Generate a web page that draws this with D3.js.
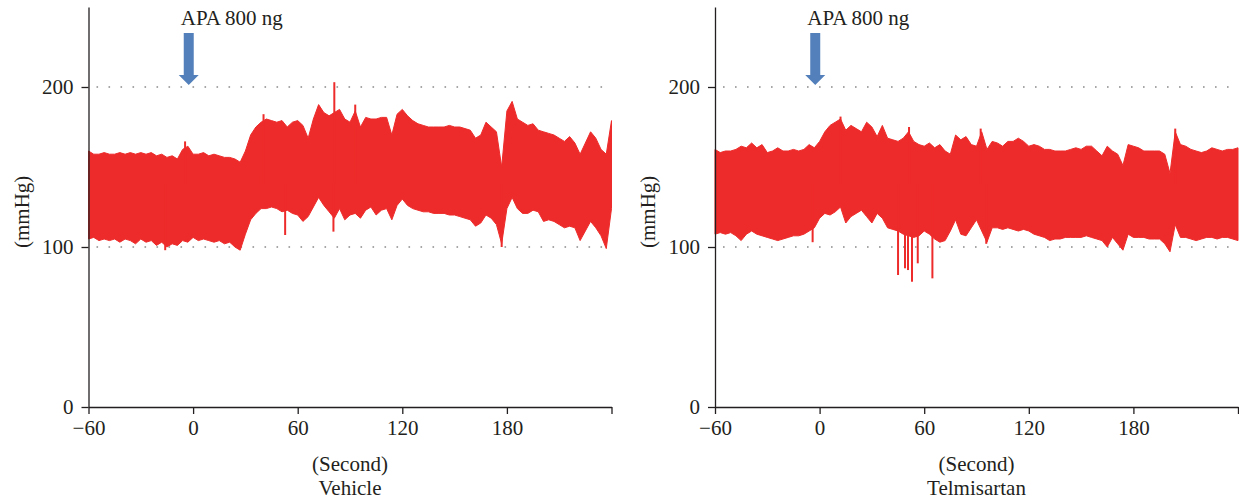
<!DOCTYPE html>
<html>
<head>
<meta charset="utf-8">
<script src="https://cdn.jsdelivr.net/npm/d3@7"></script>
<style>
  body { margin: 0; background: #fff; }
  svg { display: block; }
  text { font-family: "Liberation Serif", "DejaVu Serif", serif; fill: #231f20; }
</style>
</head>
<body>
<div id="chart"></div>
<script>
// Blood pressure traces (mmHg) after APA 800 ng, sampled every 3 s from -60 s to 240 s

const timeGrid = d3.range(-60, 241, 3);
const xTicks = [-60, 0, 60, 120, 180, 240];
const xTickLabels = ['\u221260', '0', '60', '120', '180', ''];
const yTicks = [0, 100, 200];
const gridValues = [100, 200];
const panelTitles = ['Vehicle', 'Telmisartan'];
const arrowTime = -2.5;

const vehicleUpper = [
  160, 158, 158, 159, 158, 158, 159, 158, 159, 158,
  159, 158, 159, 157, 158, 156, 157, 155, 161, 163,
  158, 158, 159, 157, 158, 157, 156, 156, 155, 153,
  160, 170, 175, 178, 180, 179, 178, 179, 175, 178,
  179, 176, 168, 180, 189, 184, 182, 184, 186, 180,
  178, 185, 175, 181, 180, 180, 181, 181, 170, 183,
  186, 182, 179, 177, 176, 175, 175, 175, 175, 176,
  175, 175, 174, 173, 168, 170, 178, 175, 172, 150,
  185, 191, 180, 178, 176, 177, 173, 172, 171, 170,
  168, 166, 169, 165, 158, 165, 172, 168, 161, 158,
  179
];
const vehicleLower = [
  105, 106, 104, 105, 104, 105, 103, 105, 104, 102,
  105, 103, 104, 101, 103, 100, 102, 101, 104, 103,
  106, 104, 105, 104, 103, 104, 102, 103, 100, 98,
  108, 117, 121, 124, 124, 125, 124, 122, 123, 121,
  120, 116, 119, 125, 131, 126, 122, 118, 124, 117,
  120, 121, 118, 123, 125, 120, 123, 124, 117, 126,
  130, 126, 124, 123, 122, 122, 121, 121, 121, 120,
  120, 119, 118, 117, 113, 115, 120, 118, 114, 102,
  124, 131, 124, 121, 121, 123, 122, 116, 117, 116,
  114, 112, 113, 112, 104, 110, 116, 112, 107, 99,
  124
];
const vehicleSpikeTime = [-4.6, 40.4, 81, 93, -16, 52.8, 80.5, 177];
const vehicleSpikeValue = [166, 183, 203, 189, 98, 107.5, 109.6, 100];

const telmiUpper = [
  161, 159, 160, 160, 161, 163, 162, 165, 162, 164,
  159, 160, 162, 160, 160, 161, 160, 161, 164, 162,
  166, 172, 176, 178, 180, 173, 176, 174, 172, 178,
  175, 169, 176, 168, 167, 166, 168, 172, 166, 164,
  163, 165, 162, 164, 160, 158, 170, 167, 169, 164,
  163, 172, 161, 166, 165, 163, 166, 166, 168, 166,
  163, 164, 163, 161, 161, 160, 160, 160, 161, 162,
  161, 163, 163, 160, 157, 163, 160, 158, 151, 164,
  163, 162, 160, 160, 160, 160, 158, 146, 172, 164,
  163, 161, 160, 159, 160, 162, 161, 160, 161, 161,
  162
];
const telmiLower = [
  108, 109, 108, 109, 107, 104, 108, 110, 108, 107,
  106, 105, 104, 105, 106, 107, 107, 108, 110, 112,
  118, 121, 120, 122, 125, 115, 119, 121, 123, 119,
  115, 121, 118, 112, 111, 110, 108, 107, 106, 107,
  110, 108, 105, 103, 104, 110, 117, 108, 107, 112,
  117, 110, 103, 112, 112, 111, 112, 111, 110, 111,
  110, 108, 107, 106, 104, 105, 105, 106, 106, 106,
  106, 107, 106, 105, 104, 100, 106, 102, 98, 108,
  106, 106, 106, 105, 105, 105, 102, 97, 114, 106,
  106, 105, 104, 105, 106, 106, 105, 106, 106, 105,
  104
];
const telmiSpikeTime = [12, 51.3, 92.4, 204, 45, 49, 50.7, 53, 56.3, 64.7, -4, 95.6];
const telmiSpikeValue = [181.5, 175, 174, 174, 82.5, 86.7, 85.6, 78.3, 89.8, 80.4, 103, 102];

const W = 1239, H = 500;
const traceColor = '#ed2b2a';
const arrowColor = '#5380bb';
const fontSize = '21px';

const svg = d3.select('#chart')
  .append('svg')
  .attr('width', W)
  .attr('height', H);

const panels = [
  { left: 88.5, right: 611.5, upper: vehicleUpper, lower: vehicleLower,
    spikeT: vehicleSpikeTime, spikeV: vehicleSpikeValue, title: panelTitles[0] },
  { left: 715, right: 1238, upper: telmiUpper, lower: telmiLower,
    spikeT: telmiSpikeTime, spikeV: telmiSpikeValue, title: panelTitles[1] }
];

panels.forEach(p => drawPanel(p));

function drawPanel(p) {
  const x = d3.scaleLinear().domain([-60, 240]).range([p.left, p.right]);
  const y = d3.scaleLinear().domain([0, 250]).range([407, 7]);

  const g = svg.append('g');

  // Dotted reference lines
  g.selectAll('.grid')
    .data(gridValues)
    .enter().append('line')
    .attr('x1', x(-60) + 8)
    .attr('x2', p.right)
    .attr('y1', d => y(d))
    .attr('y2', d => y(d))
    .attr('stroke', '#8a8a8a')
    .attr('stroke-width', 1.6)
    .attr('stroke-dasharray', '1.6,10.4');

  // Pressure trace (envelope of pulsatile signal)
  const pts = timeGrid.map((t, i) => ({ t: t, hi: p.upper[i], lo: p.lower[i] }));
  const area = d3.area()
    .x(d => x(d.t))
    .y0(d => y(d.lo))
    .y1(d => y(d.hi));
  g.append('path')
    .datum(pts)
    .attr('d', area)
    .attr('fill', traceColor)
    .attr('stroke', traceColor)
    .attr('stroke-width', 1);

  // Individual spikes
  const spikes = p.spikeT.map((t, i) => ({ t: t, v: p.spikeV[i] }));
  g.selectAll('.spike')
    .data(spikes)
    .enter().append('line')
    .attr('x1', d => x(d.t))
    .attr('x2', d => x(d.t))
    .attr('y1', y(140))
    .attr('y2', d => y(d.v))
    .attr('stroke', traceColor)
    .attr('stroke-width', 2);

  // Y axis
  const yAxis = g.append('g')
    .attr('transform', `translate(${p.left},0)`)
    .call(d3.axisLeft(y).tickValues(yTicks).tickSize(7).tickSizeOuter(0).tickPadding(8));
  yAxis.selectAll('text').style('font-size', fontSize).attr('fill', '#231f20');

  // X axis
  const xAxis = g.append('g')
    .attr('transform', `translate(0,${y(0)})`)
    .call(d3.axisBottom(x).tickValues(xTicks).tickSize(7).tickSizeOuter(0).tickPadding(6)
      .tickFormat((d, i) => xTickLabels[i]));
  xAxis.selectAll('text').style('font-size', fontSize).attr('fill', '#231f20');

  [yAxis, xAxis].forEach(a => {
    a.selectAll('path, line').attr('stroke', '#231f20').attr('stroke-width', 1.3);
    a.select('.domain').attr('fill', 'none');
  });

  // Axis titles
  g.append('text')
    .attr('transform', `translate(${p.left - 60},${y(122)}) rotate(-90)`)
    .attr('text-anchor', 'middle')
    .style('font-size', fontSize)
    .text('(mmHg)');

  const cx = (p.left + p.right) / 2;
  g.append('text')
    .attr('x', cx)
    .attr('y', 471)
    .attr('text-anchor', 'middle')
    .style('font-size', fontSize)
    .text('(Second)');
  g.append('text')
    .attr('x', cx)
    .attr('y', 495)
    .attr('text-anchor', 'middle')
    .style('font-size', fontSize)
    .text(p.title);

  // APA arrow
  const ax = x(arrowTime);
  const tip = y(200) - 2;
  const arrowPath = d3.path();
  arrowPath.moveTo(ax - 5, 33);
  arrowPath.lineTo(ax + 5, 33);
  arrowPath.lineTo(ax + 5, tip - 10);
  arrowPath.lineTo(ax + 10, tip - 10);
  arrowPath.lineTo(ax, tip);
  arrowPath.lineTo(ax - 10, tip - 10);
  arrowPath.lineTo(ax - 5, tip - 10);
  arrowPath.closePath();
  g.append('path')
    .attr('d', arrowPath.toString())
    .attr('fill', arrowColor);

  g.append('text')
    .attr('x', ax - 8)
    .attr('y', 25)
    .style('font-size', fontSize)
    .text('APA 800 ng');
}
</script>
</body>
</html>
